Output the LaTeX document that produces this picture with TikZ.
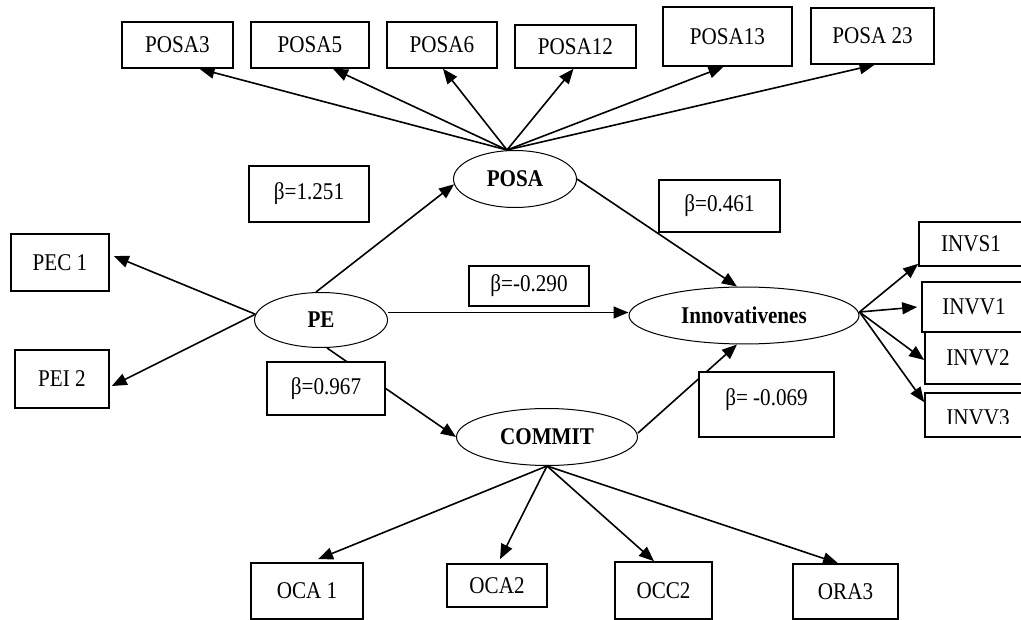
\documentclass[tikz,border=0pt]{standalone}
\usepackage{fontspec}
\setmainfont[FakeStretch=0.88]{Liberation Serif}
\usetikzlibrary{arrows.meta,shapes.geometric,backgrounds}
\tikzset{
  sz/.style 2 args={minimum width=#1pt,minimum height=#2pt},
  box/.style={draw,line width=1.6pt,fill=white,inner sep=0pt},
  latent/.style={draw,ellipse,line width=1pt,fill=white,inner sep=0pt,font=\fontsize{24}{27}\selectfont\bfseries},
  arr/.style={line width=1.6pt,-{Triangle[length=15pt,width=12pt]}},
}
\begin{document}
\begin{tikzpicture}[x=1pt,y=-1pt,font=\fontsize{24}{27}\selectfont]
\useasboundingbox (0,0) rectangle (1021,620);
%latent variables
\node[latent,sz={123}{57}] (posa) at (515,179) {POSA};
\node[latent,sz={133}{55}] (pe) at (321,320) {PE};
\node[latent,sz={230}{57}] (innov) at (744,315.5) {Innovativenes};
\node[latent,sz={181}{57}] (commit) at (547,437) {COMMIT};
%POSA items
\node[box,sz={111}{46}] (posa3) at (177.5,45) {POSA3};
\node[box,sz={118}{46}] (posa5) at (310,45) {POSA5};
\node[box,sz={110}{46}] (posa6) at (442,45) {POSA6};
\node[box,sz={121}{43}] (posa12) at (575.5,46.5) {POSA12};
\node[box,sz={129}{59}] (posa13) at (727.5,36.5) {POSA13};
\node[box,sz={123}{56}] (posa23) at (872.5,36) {POSA 23};
%PE items
\node[box,sz={98}{57}] (pec1) at (60,262.5) {PEC 1};
\node[box,sz={94}{58}] (pei2) at (62,379) {PEI 2};
%innovativeness items
\node[box,sz={104}{44}] (invs1) at (971,244) {INVS1};
\node[box,sz={104}{50}] (invv1) at (974,307) {INVV1};
\node[box,sz={106}{52}] (invv2) at (978,358) {INVV2};
\node[box,sz={106}{44},path picture={
  \clip (path picture bounding box.north west) rectangle ([yshift=13pt]path picture bounding box.south east);
  \node[font=\fontsize{24}{27}\selectfont] at ([yshift=-3pt]path picture bounding box.center) {INVV3};}] (invv3) at (978,415) {};
%COMMIT items
\node[box,sz={112}{56}] (oca1) at (307,591) {OCA 1};
\node[box,sz={100}{43}] (oca2) at (497,585.5) {OCA2};
\node[box,sz={97}{57}] (occ2) at (663.5,590.5) {OCC2};
\node[box,sz={105}{55}] (ora3) at (845.5,591.5) {ORA3};
%path coefficients
\node[box,sz={120}{56}] (b1) at (309,194) {β=1.251};
\node[box,sz={120}{40}] (b2) at (529,286) {β=-0.290};
\node[box,sz={121}{52}] (b3) at (719.5,206) {β=0.461};
\node[box,sz={118}{53}] (b4) at (326,388.5) {β=0.967};
\node[box,sz={135}{65},text height=16pt,text depth=14pt] (b5) at (766.5,404.5) {β= -0.069};
%arrows
\begin{scope}[on background layer]
\foreach \n/\s in {posa3/22,posa5/23,posa6/1,posa12/-2,posa13/-4,posa23/2}{\draw[arr] ([xshift=-8pt]posa.north)--([xshift=\s pt]\n.south);}
\draw[arr] (pe.175)--([xshift=4pt,yshift=6.5pt]pec1.east);
\draw[arr] (pe.175)--([xshift=2pt,yshift=-7pt]pei2.east);
\draw[arr] ([xshift=-5pt]pe.north)--(posa.185);
\draw[arr] ([yshift=7.5pt]pe.east)--([yshift=3pt]innov.west);
\draw[arr] ([xshift=6pt]pe.south)--(commit.west);
\draw[arr] (posa.east)--([xshift=-7pt]innov.north);
\draw[arr] ([yshift=4pt]commit.east)--([xshift=-7pt]innov.south);
\draw[arr] ([yshift=3.5pt]innov.east)--([yshift=3pt]invs1.south west);
\draw[arr] ([yshift=3.5pt]innov.east)--([xshift=-4pt]invv1.west);
\draw[arr] ([yshift=3.5pt]innov.east)--([yshift=-2pt]invv2.west);
\draw[arr] ([yshift=3.5pt]innov.east)--([yshift=-10pt]invv3.north west);
\foreach \n/\s/\t in {oca1/11/3,oca2/3/4,occ2/-9.5/0,ora3/-7.5/0}{\draw[arr] (commit.south)--([xshift=\s pt,yshift=\t pt]\n.north);}
\end{scope}
\end{tikzpicture}
\end{document}
